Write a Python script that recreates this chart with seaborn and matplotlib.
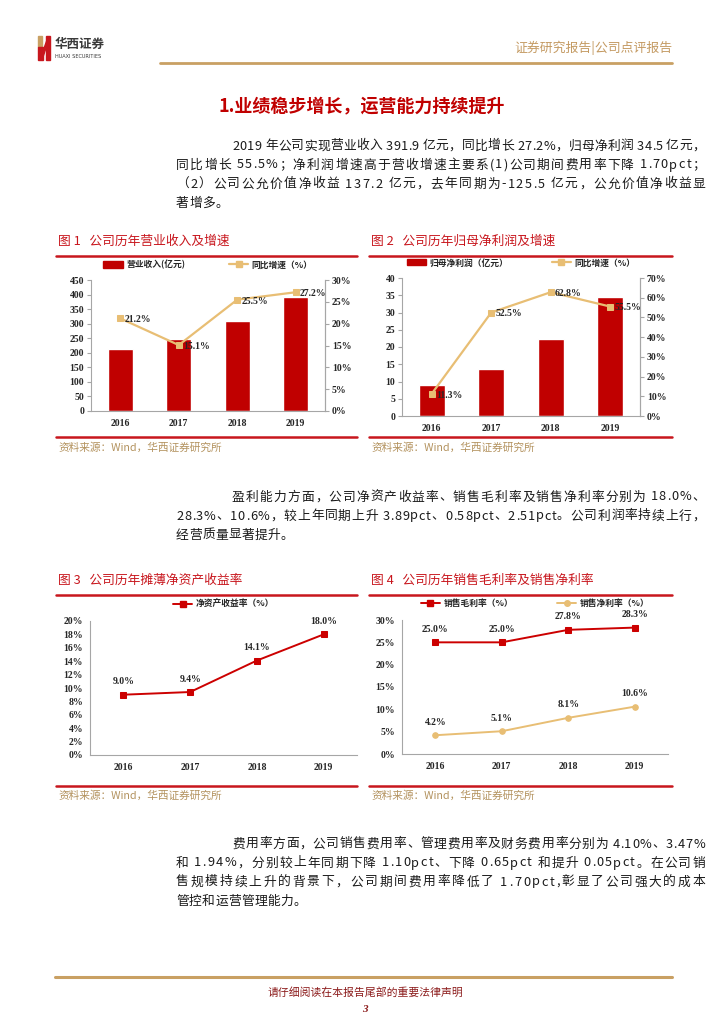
import matplotlib
matplotlib.use("Agg")
import matplotlib.pyplot as plt
from matplotlib.lines import Line2D
from matplotlib.patches import Patch, Rectangle, Polygon
from matplotlib.font_manager import FontProperties
import numpy as np
import seaborn as sns

sns.set_style("white")
plt.rcParams['font.family'] = ['Noto Sans CJK SC', 'DejaVu Sans']

# ---- data ----
years = ["2016", "2017", "2018", "2019"]
revenue = [213.0, 247.0, 308.0, 391.9]          # 营业收入(亿元)
revenue_growth = [21.2, 15.1, 25.5, 27.2]        # 同比增速 %
profit = [8.9, 13.6, 22.2, 34.5]                 # 归母净利润(亿元)
profit_growth = [11.3, 52.5, 62.8, 55.5]         # 同比增速 %
roe = [9.0, 9.4, 14.1, 18.0]                     # 净资产收益率 %
gross_margin = [25.0, 25.0, 27.8, 28.3]          # 销售毛利率 %
net_margin = [4.2, 5.1, 8.1, 10.6]               # 销售净利率 %

para1 = ["2019 年公司实现营业收入 391.9 亿元，同比增长 27.2%，归母净利润 34.5 亿元，",
         "同比增长 55.5%；净利润增速高于营收增速主要系(1)公司期间费用率下降 1.70pct；",
         "（2）公司公允价值净收益 137.2 亿元，去年同期为-125.5 亿元，公允价值净收益显",
         "著增多。"]
para2 = ["盈利能力方面，公司净资产收益率、销售毛利率及销售净利率分别为 18.0%、",
         "28.3%、10.6%，较上年同期上升 3.89pct、0.58pct、2.51pct。公司利润率持续上行，",
         "经营质量显著提升。"]
para3 = ["费用率方面，公司销售费用率、管理费用率及财务费用率分别为 4.10%、3.47%",
         "和 1.94%，分别较上年同期下降 1.10pct、下降 0.65pct 和提升 0.05pct。在公司销",
         "售规模持续上升的背景下，公司期间费用率降低了 1.70pct,彰显了公司强大的成本",
         "管控和运营管理能力。"]

RED = "#C00000"
GOLD = "#E8BE74"
RULE = "#C8161D"
SRC = "#B3925E"
HEAD = "#C49A62"
SPINE = "#A6A6A6"
NUM = dict(family="Liberation Serif", weight="bold", size=7)

W, H = 724, 1024
fig = plt.figure(figsize=(7.24, 10.24), dpi=100)
renderer = fig.canvas.get_renderer()
BODY = FontProperties(family=["Noto Sans CJK SC"], size=9.2)


def rect(x0, y0, x1, y1):
    return [x0 / W, 1 - y1 / H, (x1 - x0) / W, (y1 - y0) / H]


def ftext(x, y, s, **kw):
    kw.setdefault("va", "center")
    fig.text(x / W, 1 - y / H, s, **kw)


def hline(x0, x1, y, color, lw):
    fig.add_artist(Line2D([x0 / W, x1 / W], [1 - y / H] * 2, color=color, lw=lw))


def justified(x0, x1, y, line, stretch):
    widths = [renderer.get_text_width_height_descent(ch, BODY, ismath=False)[0] for ch in line]
    gap = (x1 - x0 - sum(widths)) / (len(line) - 1) if stretch else 0.3
    x = x0
    for ch, w in zip(line, widths):
        fig.text(x / W, 1 - y / H, ch, fontproperties=BODY, va="center", ha="left", color="#1A1A1A")
        x += w + gap


def paragraph(lines, y0, step=19):
    for i, line in enumerate(lines):
        justified(232 if i == 0 else 176, 705, y0 + i * step, line, i < len(lines) - 1)


def style(ax, ymax, step, pct, side="left"):
    ax.set_ylim(0, ymax)
    ax.set_yticks(np.arange(0, ymax + step / 2, step))
    labels = [f"{int(v)}%" if pct else f"{int(v)}" for v in ax.get_yticks()]
    ax.set_yticklabels(labels, fontdict=NUM)
    for s in ax.spines.values():
        s.set_color(SPINE)
        s.set_linewidth(0.8)
    ax.spines["top"].set_visible(False)
    if side == "left":
        ax.spines["right"].set_visible(False)
    ax.tick_params(axis="y", which="both", direction="out", length=3, color=SPINE, pad=2)
    ax.set_xlabel("")
    ax.set_ylabel("")


def style_x(ax):
    n = len(years)
    ax.set_xlim(-0.5, n - 0.5)
    ax.set_xticks(range(n))
    ax.set_xticklabels(years, fontdict=NUM)
    ax.set_xticks(np.arange(-0.5, n, 1.0), minor=True)
    ax.tick_params(axis="x", which="major", length=0, pad=6)
    ax.tick_params(axis="x", which="minor", direction="out", length=3, color=SPINE)


# ---- header ----
fig.add_artist(Rectangle((38 / W, 1 - 47 / H), 4 / W, 11 / H, color="#C9A063", transform=fig.transFigure))
fig.add_artist(Rectangle((38 / W, 1 - 60 / H), 5 / W, 13 / H, color=RULE, transform=fig.transFigure))
fig.add_artist(Rectangle((46 / W, 1 - 60 / H), 4 / W, 24 / H, color=RULE, transform=fig.transFigure))
fig.add_artist(Polygon([(42 / W, 1 - 54 / H), (47 / W, 1 - 40 / H), (47 / W, 1 - 45 / H), (43 / W, 1 - 57 / H)],
                       color=RULE, transform=fig.transFigure))
ftext(55, 44, "华西证券", fontsize=9, weight="bold", color="#3A3A3A")
ftext(55, 56, "HUAXI SECURITIES", fontsize=3.6, color="#3A3A3A", family="DejaVu Sans")
ftext(672, 48, "证券研究报告|公司点评报告", fontsize=9.3, color=HEAD, ha="right")
hline(160, 672, 63, "#C9A063", 2.0)

ftext(218, 106, "1.业绩稳步增长，运营能力持续提升", fontsize=13, weight="bold", color=RED)

paragraph(para1, 146)
paragraph(para2, 497)
paragraph(para3, 844)

# ---- figure frames ----
for (x0, x1, title) in [(56, 357, "图 1   公司历年营业收入及增速"), (369, 672, "图 2   公司历年归母净利润及增速")]:
    ftext(x0 + 2, 241, title, fontsize=9.2, color=RULE)
    hline(x0, x1, 256, RULE, 1.8)
    hline(x0, x1, 437, RULE, 1.8)
    ftext(x0 + 2, 448, "资料来源：Wind，华西证券研究所", fontsize=7.7, color=SRC)
for (x0, x1, title) in [(56, 357, "图 3   公司历年摊薄净资产收益率"), (369, 672, "图 4   公司历年销售毛利率及销售净利率")]:
    ftext(x0 + 2, 580, title, fontsize=9.2, color=RULE)
    hline(x0, x1, 595, RULE, 1.8)
    hline(x0, x1, 786, RULE, 1.8)
    ftext(x0 + 2, 796, "资料来源：Wind，华西证券研究所", fontsize=7.7, color=SRC)

LEG = dict(size=6.3, weight="bold")


def bar_line_chart(box, bars, growth, bar_label, ymax, step, rmax, rstep):
    ax = fig.add_axes(rect(*box))
    sns.barplot(x=years, y=bars, color=RED, saturation=1, width=0.43, ax=ax)
    style(ax, ymax, step, False, side="both")
    style_x(ax)
    ax2 = ax.twinx()
    sns.lineplot(x=np.arange(len(years)), y=growth, ax=ax2, color=GOLD, lw=1.6,
                 marker="s", markersize=4.5, markeredgecolor=GOLD)
    style(ax2, rmax, rstep, True, side="right")
    ax2.spines["left"].set_visible(False)
    ax2.spines["bottom"].set_visible(False)
    style_x(ax2)
    for i, v in enumerate(growth):
        ax2.annotate(f"{v:.1f}%", (i, v), xytext=(3, -1), textcoords="offset points",
                     ha="left", va="center", **NUM)
    handles = [Patch(color=RED, label=bar_label),
               Line2D([], [], color=GOLD, lw=1.6, marker="s", markersize=4, label="同比增速（%）")]
    ax2.legend(handles=handles, loc="lower center", bbox_to_anchor=(0.5, 1.02), ncol=2,
               frameon=False, prop=LEG, handlelength=2.2, columnspacing=5, handletextpad=0.4)


bar_line_chart((91, 280, 325, 411), revenue, revenue_growth, "营业收入(亿元)", 450, 50, 30, 5)
bar_line_chart((402, 278, 640, 416), profit, profit_growth, "归母净利润（亿元）", 40, 5, 70, 10)

# ---- Figure 3: ROE ----
ax3 = fig.add_axes(rect(90, 621, 357, 755))
sns.lineplot(x=np.arange(len(years)), y=roe, ax=ax3, color="#CC0000", lw=1.4,
             marker="s", markersize=4, markeredgecolor="#CC0000")
style(ax3, 20, 2, True)
style_x(ax3)
for i, v in enumerate(roe):
    ax3.annotate(f"{v:.1f}%", (i, v), xytext=(0, 6), textcoords="offset points",
                 ha="center", va="bottom", **NUM)
ax3.legend(handles=[Line2D([], [], color="#CC0000", lw=1.4, marker="s", markersize=4, label="净资产收益率（%）")],
           loc="lower center", bbox_to_anchor=(0.5, 1.03), frameon=False, prop=LEG,
           handlelength=2.2, handletextpad=0.4)

# ---- Figure 4: margins ----
ax4 = fig.add_axes(rect(402, 620, 668, 754))
sns.lineplot(x=np.arange(len(years)), y=gross_margin, ax=ax4, color="#CC0000", lw=1.4,
             marker="s", markersize=4, markeredgecolor="#CC0000")
sns.lineplot(x=np.arange(len(years)), y=net_margin, ax=ax4, color=GOLD, lw=1.4,
             marker="o", markersize=4, markeredgecolor=GOLD)
style(ax4, 30, 5, True)
style_x(ax4)
for series in (gross_margin, net_margin):
    for i, v in enumerate(series):
        ax4.annotate(f"{v:.1f}%", (i, v), xytext=(0, 6), textcoords="offset points",
                     ha="center", va="bottom", **NUM)
ax4.legend(handles=[Line2D([], [], color="#CC0000", lw=1.4, marker="s", markersize=4, label="销售毛利率（%）"),
                    Line2D([], [], color=GOLD, lw=1.4, marker="o", markersize=4, label="销售净利率（%）")],
           loc="lower center", bbox_to_anchor=(0.5, 1.03), ncol=2, frameon=False, prop=LEG,
           handlelength=2.2, columnspacing=5, handletextpad=0.4)

# ---- footer ----
hline(55, 672, 977, "#C9A063", 2.2)
ftext(365, 992, "请仔细阅读在本报告尾部的重要法律声明", fontsize=7.8, color="#8B1A1A", ha="center")
ftext(365, 1010, "3", fontsize=8, color="#8B1A1A", ha="center", family="Liberation Serif",
      weight="bold", style="italic")

fig.savefig("out.png", dpi=100)
